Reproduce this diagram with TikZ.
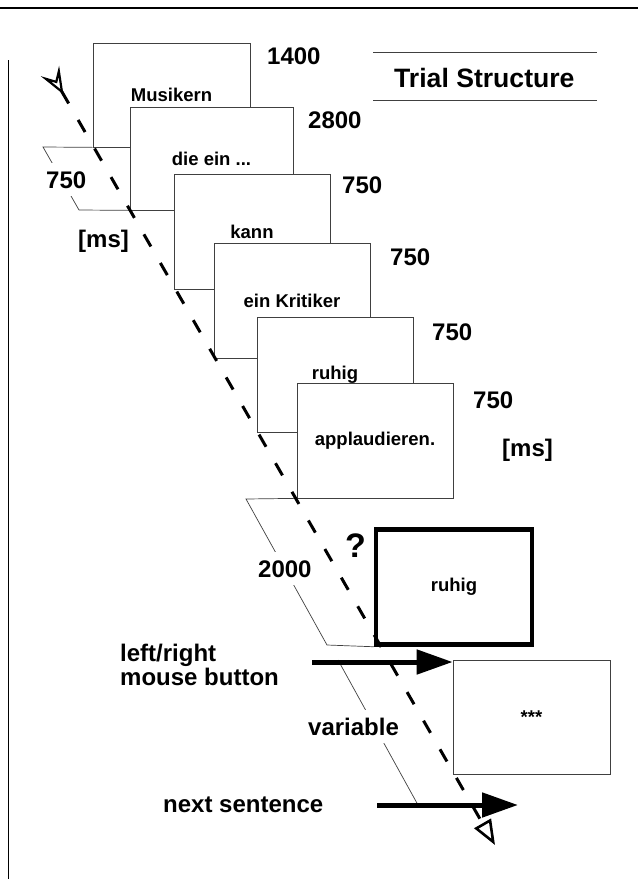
\documentclass[tikz,border=0pt]{standalone}
\usepackage{fontspec}
\setmainfont{Liberation Sans}
\usepackage{tikz}
\usetikzlibrary{arrows.meta}

\begin{document}
\begin{tikzpicture}[
  x=1pt, y=-1pt,
  screen/.style={draw=black!75, line width=0.7pt, fill=white,
                 minimum width=156pt, minimum height=115pt, inner sep=0pt,
                 font=\fontsize{18.5}{20}\selectfont\bfseries},
  cue/.style={screen, draw=black, line width=4.5pt},
  num/.style={anchor=base west, inner sep=0pt,
              font=\fontsize{24}{23.5}\selectfont\bfseries},
  dur/.style={num, fill=white, inner xsep=1pt, inner ysep=8pt},
  hairline/.style={draw=black!75, line width=0.7pt},
  resp/.style={line width=5pt, -{Triangle[length=36pt,width=24pt]}},
  trace/.style={line width=3pt, dash pattern=on 14pt off 19pt,
    {Stealth[open,reversed,length=27pt,width=21pt,inset=11pt,line width=2.2pt]}-{Triangle[open,length=25pt,width=19pt,line width=2.6pt]}}
]
  \useasboundingbox (0,0) rectangle (638,879);

  % Frame
  \draw[line width=1.2pt] (0,8) -- (638,8);
  \draw[line width=0.9pt] (8,60) -- (8,879);

  % Title
  \draw[hairline] (373,52) -- (597,52);
  \draw[hairline] (373,100) -- (597,100);
  \node[num, font=\fontsize{26.6}{28}\selectfont\bfseries]
    (title) at (394,87) {Trial Structure};

  % Word screens
  \node[screen, minimum width=157pt, minimum height=104pt] (s1) at (171.5,95) {Musikern};
  \node[screen, minimum width=163pt, minimum height=103pt] (s2) at (211.5,158.5) {die ein ...};
  \node[screen] (s3) at (252,231.5) {kann};
  \node[screen] (s4) at (292,301) {ein Kritiker};
  \node[screen] (s5) at (335,374.5) {ruhig};
  \node[screen] (s6) at (375,440.5) {applaudieren.};

  % Durations
  \node[num] (t1) at (267,64) {1400};
  \node[num] (t2) at (308,128) {2800};
  \node[num] (t3) at (342,193) {750};
  \node[num] (t4) at (390,265) {750};
  \node[num] (t5) at (432,340) {750};
  \node[num] (t6) at (473,408) {750};
  \node[num] (ms2) at (502,456) {[ms]};

  % Pause before sentence
  \draw[hairline] (79,210) -- (43,147) -- (s1.south west);
  \draw[hairline] (79,210) -- (s2.south west);
  \node[dur] (p1) at (45,188) {750};
  \node[num] (ms1) at (78,247) {[ms]};

  % Probe
  \node[cue] (probe) at (454,587) {ruhig};
  \node[screen, minimum width=157pt, minimum height=114pt] (stars) at (531.5,717) {***};
  \node[num, font=\fontsize{34}{36}\selectfont\bfseries] (q) at (345,557) {?};

  \draw[hairline] (s6.south west) -- (246,499) -- (327,645) -- (probe.south west);
  \node[dur] (p2) at (257,577) {2000};
  \draw[hairline] (338,660) -- (418,805);
  \node[dur] (p3) at (307,735) {variable};

  % Responses
  \node[num, anchor=west, align=left] (btn) at (120,665) {left/right\\mouse button};
  \node[num] (nxt) at (163,812) {next sentence};

  \coordinate (b0) at (312,662);
  \draw[resp] (b0) -- (b0 -| stars.west);
  \coordinate (n0) at (377,805);
  \coordinate (n1) at (518,805);
  \draw[resp] (n0) -- (n1);

  % Time axis
  \coordinate (tl) at (50,71);
  \coordinate (hd) at (495,845);
  \draw[trace] (tl) -- (hd);

\end{tikzpicture}
\end{document}
